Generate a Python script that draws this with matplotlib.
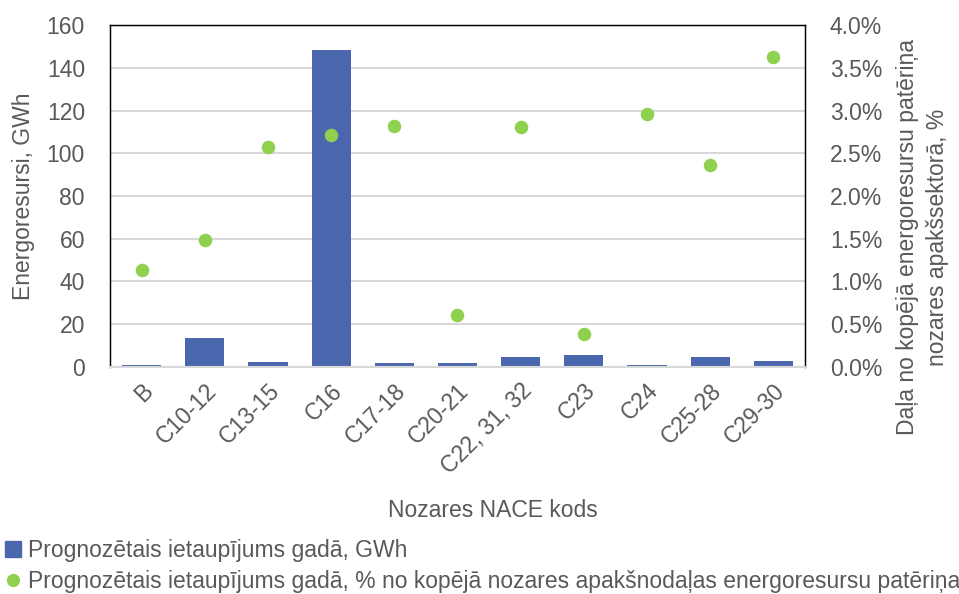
import numpy as np
import matplotlib
matplotlib.use("Agg")
import matplotlib.pyplot as plt
from matplotlib.lines import Line2D
from matplotlib.ticker import FuncFormatter

plt.rcParams['font.family'] = ['Liberation Sans', 'DejaVu Sans']

# ===== DATA =====
codes = ["B", "C10-12", "C13-15", "C16", "C17-18", "C20-21",
         "C22, 31, 32", "C23", "C24", "C25-28", "C29-30"]
savings_gwh = [0.8, 13.3, 2.2, 148.4, 1.6, 1.6, 4.7, 5.3, 0.6, 4.5, 2.8]
savings_pct = [1.13, 1.49, 2.57, 2.72, 2.82, 0.60, 2.81, 0.38, 2.96, 2.36, 3.63]

label_bar = "Prognozētais ietaupījums gadā, GWh"
label_dot = "Prognozētais ietaupījums gadā, % no kopējā nozares apakšnodaļas energoresursu patēriņa"

# ===== STYLE =====
bar_color = "#4A66AC"
dot_color = "#8FD14F"
text_color = "#595959"
grid_color = "#D9D9D9"
fs = 16.5

fig = plt.figure(figsize=(9.59, 5.94), dpi=100)
ax = fig.add_axes([0.1147, 0.3827, 0.7247, 0.5747])
ax2 = ax.twinx()

x = np.arange(len(codes))
ax.bar(x, savings_gwh, width=0.62, color=bar_color, zorder=2)
ax2.scatter(x, savings_pct, s=95, color=dot_color, zorder=3, linewidths=0)

ax.set_xlim(-0.5, len(codes) - 0.5)
ax.set_ylim(0, 160)
ax.set_yticks(range(0, 161, 20))
ax2.set_ylim(0, 4.0)
ax2.set_yticks(np.arange(0, 4.01, 0.5))
ax2.yaxis.set_major_formatter(FuncFormatter(lambda v, p: f"{v:.1f}%"))

ax.yaxis.grid(True, color=grid_color, linewidth=1.5, zorder=0)
ax.set_axisbelow(True)

for a in (ax, ax2):
    for side in ("top", "left", "right"):
        a.spines[side].set_color("black")
        a.spines[side].set_linewidth(0.9)
    a.spines["bottom"].set_color(grid_color)
    a.spines["bottom"].set_linewidth(1.5)
    a.tick_params(length=0, labelsize=fs, labelcolor=text_color)

ax.tick_params(axis="y", pad=18)
ax2.tick_params(axis="y", pad=18)

ax.set_xticks(x)
ax.set_xticklabels(codes, rotation=45, ha="right", va="top",
                   rotation_mode="anchor", fontsize=fs, color=text_color)
ax.tick_params(axis="x", pad=9)

# axis titles
fig.text(24 / 959, 0.67, "Energoresursi, GWh", rotation=90, ha="center",
         va="center", fontsize=fs, color=text_color)
fig.text(0.962, 0.601, "Daļa no kopējā energoresursu patēriņa\nnozares apakšsektorā, %",
         rotation=90, ha="center", va="center", fontsize=fs, color=text_color,
         multialignment="center", linespacing=1.35)
fig.text(0.514, 0.14, "Nozares NACE kods", ha="center", va="center",
         fontsize=fs, color=text_color)

# ===== LEGEND =====
handles = [
    Line2D([], [], marker="s", linestyle="none", color=bar_color, markersize=11),
    Line2D([], [], marker="o", linestyle="none", color=dot_color, markersize=8.5),
]
fig.legend(handles, [label_bar, label_dot], loc="upper left",
           bbox_to_anchor=(-0.008, 0.112), frameon=False, fontsize=fs,
           labelcolor=text_color, handlelength=0.8, handletextpad=0.25,
           labelspacing=0.35, borderpad=0)

fig.savefig("out.png", dpi=100)
